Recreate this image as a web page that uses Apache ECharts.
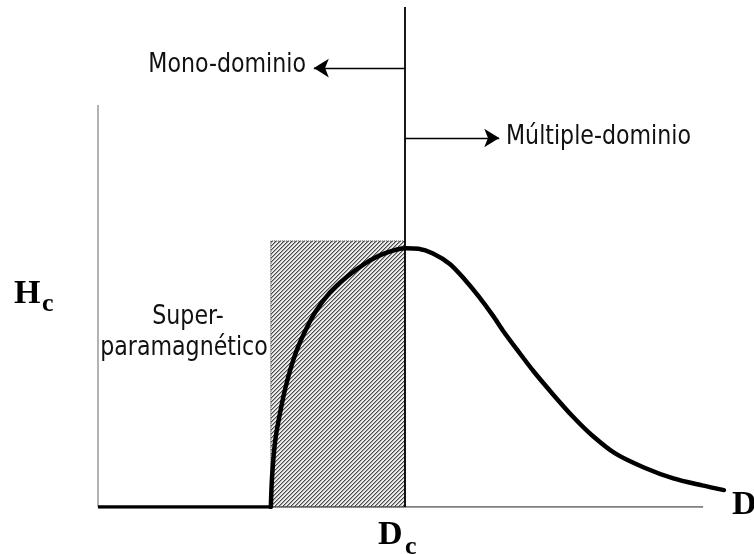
<!DOCTYPE html>
<html>
<head>
<meta charset="utf-8">
<script src="https://cdn.jsdelivr.net/npm/echarts@6/dist/echarts.min.js"></script>
<style>
html,body{margin:0;padding:0;background:#fff;}
#chart{width:754px;height:554px;}
</style>
</head>
<body>
<div id="chart"></div>
<script>
// ---- data (D in units of Dc, Hc in units of peak coercivity) ----
var flatD = [0, 0.563];
var flatHc = [0, 0];
var curveD = [0.563, 0.567, 0.577, 0.593, 0.613, 0.640, 0.671, 0.707, 0.754, 0.809, 0.872, 0.934, 1.002, 1.044, 1.091, 1.146, 1.193, 1.240, 1.287, 1.318, 1.365, 1.420, 1.483, 1.545, 1.608, 1.686, 1.780, 1.874, 1.968, 2.039];
var curveHc = [0, 0.117, 0.253, 0.362, 0.470, 0.579, 0.667, 0.748, 0.823, 0.884, 0.938, 0.975, 0.995, 0.993, 0.975, 0.935, 0.877, 0.810, 0.735, 0.680, 0.605, 0.520, 0.432, 0.350, 0.277, 0.205, 0.151, 0.110, 0.083, 0.065];
var Dc = 1.0;
var superStart = 0.563;          // start of superparamagnetic zone
var superTop = 1.023;            // top of hatched region
var dcLineTop = 1.923;
var yAxisTop = 1.546;
var xAxisEnd = 1.971;
var monoArrow = {from: 1.0, to: 0.703, level: 1.688};
var multiArrow = {from: 1.0, to: 1.307, level: 1.419};
var xMax = 2.1, yMax = 1.923;

function zip(a, b){ return a.map(function(v,i){ return [v, b[i]]; }); }

// hatch pattern
var pc = document.createElement('canvas');
pc.width = 4; pc.height = 4;
var pctx = pc.getContext('2d');
pctx.fillStyle = '#ececec'; pctx.fillRect(0,0,4,4);
for (var px = 0; px < 4; px++) for (var py = 0; py < 4; py++) {
  var k = (px + py) % 4;
  if (k === 0) { pctx.fillStyle = '#4a4a4a'; pctx.fillRect(px,py,1,1); }
  else if (k === 1) { pctx.fillStyle = '#a4a4a4'; pctx.fillRect(px,py,1,1); }
}

var chart = echarts.init(document.getElementById('chart'), null, {renderer:'canvas'});
var sx = 307, sy = 260;
var hidden = {show:false};
var sansFont = '27px "DejaVu Sans", "Noto Sans", sans-serif';
var serifFont = 'bold 34px "Liberation Serif", "DejaVu Serif", serif';
var subFont = 'bold 26px "Liberation Serif", "DejaVu Serif", serif';
function sans(text, x, y, align){
  return {type:'text', x:x, y:y, scaleX:0.82, z:10,
    style:{text:text, font:sansFont, fill:'#111', textAlign:align, textVerticalAlign:'middle'}};
}
function serif(text, x, y, font){
  return {type:'text', x:x, y:y, z:10,
    style:{text:text, font:font, fill:'#000', textAlign:'left', textVerticalAlign:'middle'}};
}

var option = {
  animation:false,
  backgroundColor:'#fff',
  grid:{left:98, top:7, width:xMax*sx, height:yMax*sy},
  xAxis:{type:'value', min:0, max:xMax, axisLine:hidden, axisTick:hidden, axisLabel:hidden, splitLine:hidden},
  yAxis:{type:'value', min:0, max:yMax, axisLine:hidden, axisTick:hidden, axisLabel:hidden, splitLine:hidden},
  series:[
    {type:'line', z:1, symbol:'none', data:[[0,0],[0,yAxisTop]], lineStyle:{color:'#9a9a9a', width:1.5}, silent:true},
    {type:'line', z:1, symbol:'none', data:[[0,0],[xAxisEnd,0]], lineStyle:{color:'#555', width:1.5}, silent:true},
    {type:'line', z:2, symbol:'none', data:[[Dc,0],[Dc,dcLineTop]], lineStyle:{color:'#000', width:1.8}, silent:true,
      markArea:{silent:true, z:1,
        itemStyle:{color:{image:pc, repeat:'repeat'}, borderColor:'#333', borderWidth:1, borderType:'dotted'},
        data:[[{coord:[superStart,0]},{coord:[Dc,superTop]}]]},
      markLine:{silent:true, symbol:['none','arrow'], symbolSize:[14,15], label:{show:false},
        lineStyle:{color:'#000', width:1.3, type:'solid'},
        data:[
          [{coord:[monoArrow.from, monoArrow.level]},{coord:[monoArrow.to, monoArrow.level]}],
          [{coord:[multiArrow.from, multiArrow.level]},{coord:[multiArrow.to, multiArrow.level]}]
        ]}
    },
    {type:'line', z:5, symbol:'none', data:zip(flatD, flatHc), lineStyle:{color:'#000', width:3.5}, silent:true},
    {type:'line', z:5, symbol:'none', smooth:0.3, data:zip(curveD, curveHc), lineStyle:{color:'#000', width:4.5, join:'round', cap:'round'}, silent:true}
  ],
  graphic:[
    sans('Mono-dominio', 306, 65, 'right'),
    sans('Múltiple-dominio', 506, 137, 'left'),
    sans('Super-', 188, 317, 'center'),
    sans('paramagnético', 184, 348, 'center'),
    serif('H', 14, 294, serifFont),
    serif('c', 42, 304, subFont),
    serif('D', 378, 535, serifFont),
    serif('c', 405, 547, subFont),
    serif('D', 732, 505, serifFont)
  ]
};
chart.setOption(option);
</script>
</body>
</html>
